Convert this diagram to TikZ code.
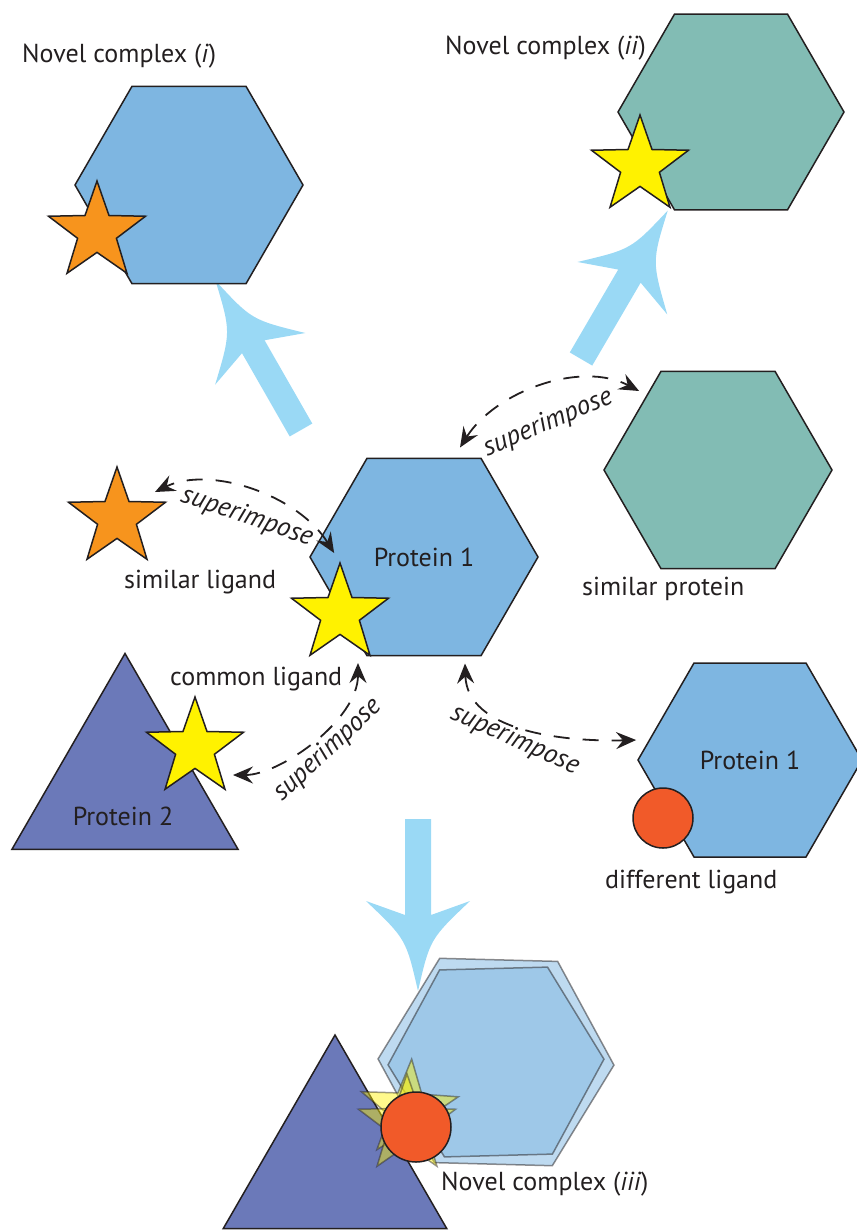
\documentclass[tikz,border=0pt]{standalone}
\usepackage{fontspec}
\setmainfont{PT Sans}
\usetikzlibrary{shapes.geometric, arrows.meta, calc, positioning}
\definecolor{azulprot}{HTML}{7EB6E1}
\definecolor{verdeprot}{HTML}{82BCB4}
\definecolor{moradoprot}{HTML}{6B79B9}
\definecolor{amarillo}{HTML}{FFF200}
\definecolor{naranja}{HTML}{F7941D}
\definecolor{rojo}{HTML}{F15A29}
\definecolor{celeste}{HTML}{9AD9F5}
\definecolor{tinta}{HTML}{231F20}
\tikzset{
    hexagono/.style={regular polygon, regular polygon sides=6, minimum size=228pt,
        inner sep=0pt, draw=tinta, line width=1.5pt, fill=azulprot,
        font=\fontsize{26}{31}\selectfont, text=tinta},
    estrella/.style={star, star points=5, star point ratio=2.5, minimum size=102pt,
        inner sep=0pt, draw=tinta, line width=1.5pt},
    triangulo/.style={regular polygon, regular polygon sides=3, minimum size=261pt,
        inner sep=0pt, draw=tinta, line width=1.5pt, fill=moradoprot},
    circulo/.style={circle, minimum size=60pt, inner sep=0pt, draw=tinta,
        line width=1.5pt, fill=rojo},
    etiqueta/.style={font=\fontsize{26}{31}\selectfont, text=tinta, inner sep=0pt},
    rotulo/.style={font=\fontsize{27}{32}\selectfont\itshape, text=tinta, inner sep=0pt},
    superpone/.style={tinta, line width=1.8pt, dash pattern=on 16pt off 13pt,
        {Stealth[length=20pt,width=17pt,inset=7pt]}-{Stealth[length=20pt,width=17pt,inset=7pt]}},
    flecha/.pic={
        \fill[celeste] (0,-13) -- (96,-13) -- (82,-52) .. controls (120,-12) .. (172,0)
            .. controls (120,12) .. (82,52) -- (96,13) -- (0,13) -- cycle;
    }
}

\begin{document}
\begin{tikzpicture}[x=1pt, y=-1pt]
    \useasboundingbox (0,0) rectangle (857,1232);

    % flechas grandes
    \coordinate (fi) at (301,430);
    \coordinate (fii) at (581,359);
    \coordinate (fiii) at (418,819);
    \pic[rotate=119.8] at (fi) {flecha};
    \pic[rotate=59.7] at (fii) {flecha};
    \pic[rotate=-90] at (fiii) {flecha};

    % complejos nuevos (i) y (ii)
    \node[hexagono] (cxi) at (189,185) {};
    \node[estrella, fill=naranja] (ligi) at (97,232) {};
    \node[hexagono, fill=verdeprot, minimum size=226pt] (cxii) at (731,112) {};
    \node[estrella, fill=amarillo] (ligii) at (640,166) {};

    % proteinas y ligandos
    \node[hexagono] (prot) at (424,557) {Protein 1};
    \node[hexagono, fill=verdeprot] (simprot) at (718,470) {};
    \node[estrella, fill=naranja] (simlig) at (117,518) {};
    \node[estrella, fill=amarillo] (comlig) at (340,614) {};
    \node[triangulo] (prot2) at (125,784) {};
    \node[estrella, fill=amarillo] (ligp2) at (195,748) {};
    \node[hexagono, minimum size=224pt] (protb) at (750,760) {Protein 1};
    \node[circulo] (diflig) at (663,818) {};

    % complejo nuevo (iii)
    \node[triangulo, minimum size=258pt] (prot2b) at (335,1164) {};
    \node[hexagono, minimum size=236pt, rotate=-1.5, opacity=0.5] (cxiiia) at (496,1062) {};
    \node[hexagono, minimum size=216pt, rotate=1.5, opacity=0.5] (cxiiib) at (496,1062) {};
    \node[estrella, fill=amarillo, opacity=0.45, rotate=-3] (ligiiia) at (409,1110) {};
    \node[estrella, fill=amarillo, opacity=0.45] (ligiiib) at (407,1125) {};
    \node[circulo, minimum size=70pt] (difligb) at (416,1127) {};

    % textos
    \node[etiqueta, anchor=base west] (tcxi) at (22,62) {Novel complex (\textit{i})};
    \node[etiqueta, anchor=base west] (tcxii) at (445,54) {Novel complex (\textit{ii})};
    \node[etiqueta, anchor=base west] (tsimlig) at (124,588) {similar ligand};
    \node[etiqueta, anchor=base west] (tsimprot) at (582,595) {similar protein};
    \node[etiqueta, anchor=base west] (tcomlig) at (170,685) {common ligand};
    \node[etiqueta] (tprot2) at (123,816) {Protein 2};
    \node[etiqueta, anchor=base west] (tdiflig) at (605,888) {different ligand};
    \node[etiqueta, anchor=base west] (tcxiii) at (441,1190) {Novel complex (\textit{iii})};

    % superposiciones
    \draw[superpone] ($(prot.north)+(36,-10)$) .. controls (495,392) and (580,360) .. ($(simprot.west)+(36,-79)$);
    \draw[superpone] ($(prot.west)+(25,-4)$) .. controls (298,495) and (210,465) .. ($(simlig.center)+(38,-26)$);
    \draw[superpone] ($(comlig.center)+(18,49)$) .. controls (358,720) and (280,775) .. ($(ligp2.center)+(38,27)$);
    \draw[superpone] ($(prot.south)+(41,7)$) .. controls (467,730) and (560,742) .. ($(protb.west)+(-1,-20)$);
    \node[rotulo, rotate=23] (supi) at (548,423) {superimpose};
    \node[rotulo, rotate=-19] (supii) at (247,517) {superimpose};
    \node[rotulo, rotate=43] (supiii) at (328,750) {superimpose};
    \node[rotulo, rotate=-24] (supiv) at (515,740) {superimpose};
\end{tikzpicture}
\end{document}
